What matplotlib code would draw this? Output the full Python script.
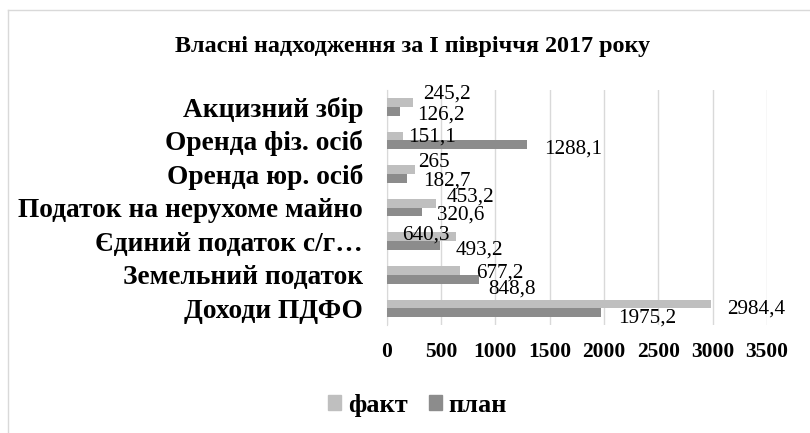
import matplotlib
matplotlib.use("Agg")
import matplotlib.pyplot as plt
from matplotlib.lines import Line2D
from matplotlib.patches import Patch

categories = ["Акцизний збір", "Оренда фіз. осіб", "Оренда юр. осіб",
              "Податок на нерухоме майно", "Єдиний податок с/г…",
              "Земельний податок", "Доходи ПДФО"]
fakt = [245.2, 151.1, 265, 453.2, 640.3, 677.2, 2984.4]
plan = [126.2, 1288.1, 182.7, 320.6, 493.2, 848.8, 1975.2]
fakt_labels = ["245,2", "151,1", "265", "453,2", "640,3", "677,2", "2984,4"]
plan_labels = ["126,2", "1288,1", "182,7", "320,6", "493,2", "848,8", "1975,2"]
xticks = [0, 500, 1000, 1500, 2000, 2500, 3000, 3500]
series_names = ["факт", "план"]

FONT = "Liberation Serif"
C_FAKT = "#BFBFBF"
C_PLAN = "#8C8C8C"
GRID = "#D9D9D9"

# label offsets in points (dx, dy) to mimic the reference placement
fakt_off = [(6.8, 7.6), (3.5, 0.8), (1.6, 6.9), (7.8, 5.8), (-38.8, 3.2), (11.4, 0.0), (11.5, -1.7)]
plan_off = [(11.7, -1.2), (12.6, -1.6), (12.1, -0.5), (10.9, -0.9), (10.7, -1.3), (6.8, -5.3), (12.4, -2.2)]
DY_FIX = -1.6

fig = plt.figure(figsize=(8.1, 4.33), dpi=100)
ax = fig.add_axes([0.4774, 0.249, 0.947 - 0.4774, 0.792 - 0.249])

h = 0.26
y = list(range(len(categories)))
yf = [v - h / 2 for v in y]
yp = [v + h / 2 for v in y]
ax.barh(yf, fakt, height=h, color=C_FAKT, zorder=3)
ax.barh(yp, plan, height=h, color=C_PLAN, zorder=3)

for yy, v, t, (dx, dy) in zip(yf, fakt, fakt_labels, fakt_off):
    ax.annotate(t, (v, yy), xytext=(dx, dy + DY_FIX), textcoords="offset points",
                ha="left", va="center", fontsize=15.2, family=FONT, zorder=4)
for yy, v, t, (dx, dy) in zip(yp, plan, plan_labels, plan_off):
    ax.annotate(t, (v, yy), xytext=(dx, dy + DY_FIX), textcoords="offset points",
                ha="left", va="center", fontsize=15.2, family=FONT, zorder=4)

ax.set_xlim(0, 3500)
ax.set_ylim(len(categories) - 0.5, -0.5)
ax.set_xticks(xticks)
ax.set_xticklabels([str(t) for t in xticks], family=FONT, fontweight="bold", fontsize=15.5)
ax.set_yticks(y)
ax.set_yticklabels(categories, family=FONT, fontweight="bold", fontsize=19.7)
ax.tick_params(axis="x", length=0, pad=12)
ax.tick_params(axis="y", length=0, pad=17)
ax.grid(axis="x", color=GRID, linewidth=1, zorder=0)
for s in ["top", "right", "bottom"]:
    ax.spines[s].set_visible(False)
ax.spines["left"].set_color(GRID)
ax.spines["left"].set_zorder(1)

fig.text(0.5099, 0.893, "Власні надходження за І півріччя 2017 року",
         ha="center", va="center", family=FONT, fontweight="bold", fontsize=17.4)

handles = [Patch(color=C_FAKT), Patch(color=C_PLAN)]
leg = fig.legend(handles, series_names, loc="center", bbox_to_anchor=(0.5154, 0.064),
                 ncol=2, frameon=False, handlelength=0.5, handleheight=0.5,
                 handletextpad=0.25, columnspacing=0.8,
                 prop={"family": FONT, "weight": "bold", "size": 19})

# chart frame
fig.add_artist(Line2D([0.00926, 0.00926], [0, 0.978], transform=fig.transFigure,
                      color=GRID, linewidth=1.0))
fig.add_artist(Line2D([0.00926, 1.0], [0.978, 0.978], transform=fig.transFigure,
                      color=GRID, linewidth=1.0))

fig.savefig("out.png", dpi=100)
